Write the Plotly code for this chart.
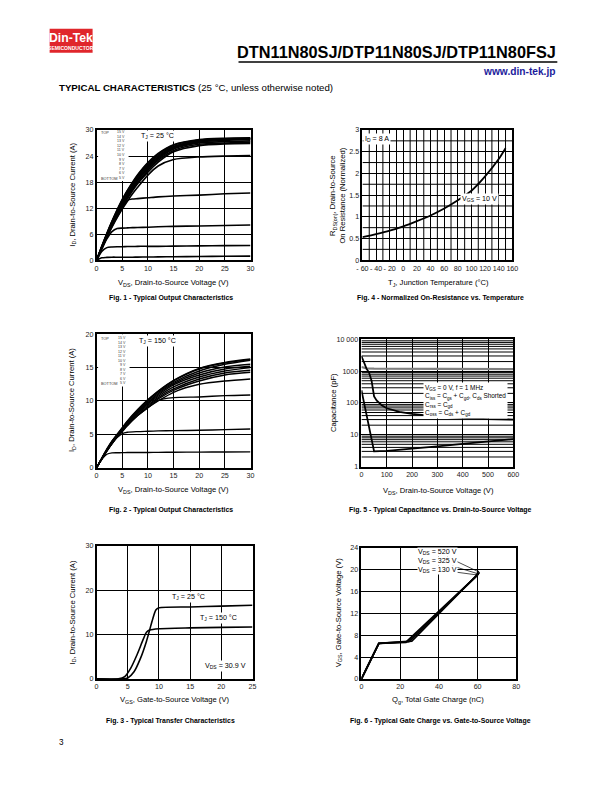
import plotly.graph_objects as go

W, H = 612, 792
OFF = 8  # default page margin of the html body
# measured page-to-picture mapping of the renderer (picture = a + b * page)
SX_A, SX_B = 5.5, 0.981
SY_A, SY_B = 4.3, 0.987
FONT = "Liberation Sans, Arial, sans-serif"

# ---------------- DATA ----------------
f1_vds = [0, 1, 2, 3, 4, 5, 6, 7, 8, 10, 12, 15, 20, 25, 30]
f1_curves = [
    [0, 3.2, 6.2, 9.0, 11.6, 14.0, 16.1, 18.0, 19.7, 22.5, 24.6, 26.6, 27.8, 28.1, 28.2],
    [0, 3.1, 6.1, 8.9, 11.5, 13.9, 16.0, 17.8, 19.5, 22.3, 24.4, 26.5, 27.7, 28.0, 28.1],
    [0, 3.1, 6.0, 8.8, 11.3, 13.6, 15.7, 17.5, 19.2, 22.0, 24.1, 26.2, 27.5, 27.9, 28.0],
    [0, 3.0, 5.9, 8.6, 11.1, 13.3, 15.4, 17.2, 18.9, 21.7, 23.8, 26.0, 27.4, 27.8, 27.9],
    [0, 3.0, 5.8, 8.5, 10.9, 13.1, 15.1, 16.9, 18.6, 21.4, 23.6, 25.8, 27.2, 27.6, 27.8],
    [0, 2.9, 5.7, 8.3, 10.7, 12.9, 14.8, 16.6, 18.3, 21.1, 23.3, 25.6, 27.0, 27.3, 27.5],
    [0, 2.9, 5.6, 8.2, 10.5, 12.6, 14.5, 16.3, 17.9, 20.7, 23.0, 25.3, 26.7, 27.0, 27.2],
    [0, 2.8, 5.5, 8.0, 10.3, 12.4, 14.2, 16.0, 17.6, 20.3, 22.6, 25.0, 26.4, 26.8, 26.9],
    [0, 2.7, 5.2, 7.6, 9.8, 11.8, 13.6, 15.3, 16.8, 19.6, 21.7, 23.2, 23.8, 24.0, 24.1],
    [0, 2.7, 5.3, 7.8, 10.0, 12.2, 13.8, 14.1, 14.2, 14.4, 14.6, 14.8, 15.0, 15.3, 15.5],
    [0, 2.5, 4.9, 6.6, 7.3, 7.4, 7.45, 7.5, 7.55, 7.6, 7.7, 7.8, 7.9, 8.0, 8.1],
    [0, 2.0, 2.9, 3.05, 3.1, 3.1, 3.15, 3.15, 3.2, 3.2, 3.2, 3.25, 3.3, 3.35, 3.4],
    [0, 0.55, 0.65, 0.7, 0.7, 0.7, 0.7, 0.7, 0.72, 0.74, 0.76, 0.8, 0.85, 0.9, 0.95],
]
vgs_labels = ["15 V", "14 V", "13 V", "12 V", "11 V", "10 V", "9 V", "8 V", "7 V", "6 V", "5 V"]

f2_vds = [0, 1, 2, 3, 4, 5, 6, 8, 10, 12, 15, 20, 25, 30]
f2_curves = [
    [0, 1.4, 2.8, 4.0, 5.0, 6.0, 7.0, 8.7, 10.2, 11.5, 13.1, 14.9, 15.8, 16.3],
    [0, 1.4, 2.7, 3.9, 4.9, 5.9, 6.9, 8.6, 10.1, 11.4, 13.0, 14.8, 15.7, 16.2],
    [0, 1.4, 2.7, 3.9, 4.9, 5.9, 6.9, 8.5, 10.0, 11.3, 12.8, 14.5, 15.5, 16.1],
    [0, 1.3, 2.6, 3.8, 4.8, 5.8, 6.8, 8.4, 9.8, 11.1, 12.6, 14.2, 15.1, 15.5],
    [0, 1.3, 2.6, 3.8, 4.8, 5.8, 6.7, 8.3, 9.7, 10.9, 12.4, 13.9, 14.8, 15.2],
    [0, 1.3, 2.6, 3.7, 4.7, 5.7, 6.6, 8.2, 9.6, 10.7, 12.1, 13.6, 14.5, 15.0],
    [0, 1.3, 2.5, 3.7, 4.7, 5.6, 6.5, 8.1, 9.4, 10.5, 11.8, 13.3, 14.2, 14.6],
    [0, 1.3, 2.5, 3.6, 4.6, 5.5, 6.4, 7.9, 9.2, 10.3, 11.6, 13.0, 13.9, 14.3],
    [0, 1.3, 2.5, 3.6, 4.6, 5.5, 6.3, 7.8, 9.0, 10.0, 11.3, 12.5, 13.0, 13.3],
    [0, 1.3, 2.5, 3.6, 4.6, 5.4, 6.3, 7.8, 9.0, 10.1, 10.5, 10.6, 10.8, 10.9],
    [0, 1.3, 2.5, 3.6, 4.5, 5.1, 5.3, 5.4, 5.45, 5.5, 5.55, 5.6, 5.7, 5.8],
    [0, 1.2, 2.0, 2.2, 2.22, 2.24, 2.25, 2.26, 2.27, 2.28, 2.3, 2.32, 2.34, 2.36],
]

f3_vgs_25 = [0, 4, 5, 6, 7, 8, 8.5, 9, 9.5, 10, 15, 20, 25]
f3_id_25 = [0, 0, 0.2, 1.6, 4.5, 8.5, 11.0, 13.5, 15.5, 16.0, 16.2, 16.4, 16.6]
f3_vgs_150 = [0, 3.5, 4.5, 5.5, 6.5, 7.5, 8, 8.5, 10, 15, 20, 25]
f3_id_150 = [0, 0, 0.5, 2.5, 5.5, 9.0, 10.5, 11.0, 11.3, 11.5, 11.6, 11.7]

f4_tj = [-60, -40, -20, 0, 20, 40, 60, 80, 100, 120, 140, 150]
f4_rds = [0.53, 0.6, 0.68, 0.78, 0.9, 1.03, 1.19, 1.38, 1.6, 1.93, 2.33, 2.58]
f4_ticktext = ["- 60", "- 40", "- 20", "0", "20", "40", "60", "80", "100", "120", "140", "160"]

f5_v_ciss = [0, 10, 20, 50, 100, 200, 300, 400, 500, 600]
f5_ciss = [1350, 1260, 1220, 1200, 1200, 1190, 1180, 1170, 1160, 1150]
f5_v_coss = [0, 10, 20, 30, 40, 50, 60, 80, 100, 150, 200, 300, 400, 500, 600]
f5_coss = [3000, 1800, 1200, 900, 500, 160, 120, 85, 68, 52, 45, 37, 33, 31, 30]
f5_v_crss = [0, 10, 20, 30, 40, 50, 100, 200, 300, 400, 500, 600]
f5_crss = [250, 100, 40, 15, 6, 3, 3.1, 3.6, 4.3, 5.2, 6.2, 7.3]
f5_tickvals = [1, 10, 100, 1000, 10000]
f5_ticktext = ["1", "10", "100", "1000", "10 000"]

f6_qg_130 = [0, 9, 23, 60]
f6_vgs_130 = [0, 6.5, 6.7, 19.0]
f6_qg_325 = [0, 9, 24.5, 60.5]
f6_vgs_325 = [0, 6.5, 6.8, 19.2]
f6_qg_520 = [0, 9, 26, 61]
f6_vgs_520 = [0, 6.5, 6.9, 19.5]
f6_labels = ["520 V", "325 V", "130 V"]

# ---------------- FIGURE ----------------
def px(x):
    return ((x - SX_A) / SX_B - OFF) / W

def py(y):
    return 1 - ((y - SY_A) / SY_B - OFF) / H

FS = 1.0 / SX_B  # font compensation

fig = go.Figure()

def add_line(xs, ys, ax, width=1.5, color="black", shape="spline"):
    line = dict(color=color, width=width, shape=shape)
    if shape == "spline":
        line["smoothing"] = 0.7
    fig.add_trace(go.Scatter(
        x=xs, y=ys, mode="lines", line=line,
        xaxis="x" + ax, yaxis="y" + ax, showlegend=False, hoverinfo="skip"))

for c in f1_curves:
    add_line(f1_vds, c, "", 1.6)
for c in f2_curves:
    add_line(f2_vds, c, "3", 1.4)
add_line(f3_vgs_25, f3_id_25, "5", 1.6)
add_line(f3_vgs_150, f3_id_150, "5", 1.6)
add_line(f4_tj, f4_rds, "2", 1.8)
add_line(f5_v_ciss, f5_ciss, "4", 2.2, color="#808080", shape="linear")
add_line(f5_v_coss, f5_coss, "4", 1.8, shape="linear")
add_line(f5_v_crss, f5_crss, "4", 1.8, shape="linear")
add_line(f6_qg_130, f6_vgs_130, "6", 1.8, shape="linear")
add_line(f6_qg_325, f6_vgs_325, "6", 1.8, shape="linear")
add_line(f6_qg_520, f6_vgs_520, "6", 1.8, shape="linear")

tickfont = dict(family=FONT, size=7 * FS, color="#222")

def axis(domain, rng, **kw):
    d = dict(domain=domain, range=rng, showline=True, mirror=True, linecolor="black",
             linewidth=1.5, showgrid=True, gridcolor="black", gridwidth=1, ticks="",
             zeroline=False, tickfont=tickfont, fixedrange=True, tickangle=0)
    d.update(kw)
    return d

def dom_x(a, b):
    return [px(a), px(b)]

def dom_y(top, bottom):
    return [py(bottom), py(top)]

fig.update_layout(
    width=W, height=H, margin=dict(l=0, r=0, t=0, b=0),
    paper_bgcolor="white", plot_bgcolor="white", showlegend=False,
    xaxis=axis(dom_x(96, 250), [0, 30], tickvals=[0, 5, 10, 15, 20, 25, 30], anchor="y"),
    yaxis=axis(dom_y(130, 260), [0, 30], tickvals=[0, 6, 12, 18, 24, 30], anchor="x"),
    xaxis2=axis(dom_x(362, 512), [-60, 160], tickvals=list(range(-60, 161, 20)),
                ticktext=f4_ticktext, anchor="y2"),
    yaxis2=axis(dom_y(130, 260), [0, 3], tickvals=[0, 0.5, 1, 1.5, 2, 2.5, 3],
                ticktext=["0", "0.5", "1", "1.5", "2", "2.5", "3"], anchor="x2"),
    xaxis3=axis(dom_x(96, 250), [0, 30], tickvals=[0, 5, 10, 15, 20, 25, 30], anchor="y3"),
    yaxis3=axis(dom_y(334, 467), [0, 20], tickvals=[0, 5, 10, 15, 20], anchor="x3"),
    xaxis4=axis(dom_x(361, 513), [0, 600], tickvals=[0, 100, 200, 300, 400, 500, 600], anchor="y4"),
    yaxis4=axis(dom_y(339, 466), [0, 4], type="log", tickvals=f5_tickvals, ticktext=f5_ticktext,
                anchor="x4"),
    xaxis5=axis(dom_x(96, 252), [0, 25], tickvals=[0, 5, 10, 15, 20, 25], anchor="y5"),
    yaxis5=axis(dom_y(545, 678), [0, 30], tickvals=[0, 10, 20, 30], anchor="x5"),
    xaxis6=axis(dom_x(361, 516), [0, 80], tickvals=[0, 20, 40, 60, 80], anchor="y6"),
    yaxis6=axis(dom_y(547, 678), [0, 24], tickvals=[0, 4, 8, 12, 16, 20, 24], anchor="x6"),
)

# minor grid lines (style) as shapes
gl = dict(color="black", width=1)
for v in range(-50, 160, 20):
    fig.add_shape(type="line", xref="x2", yref="y2", x0=v, x1=v, y0=0, y1=3, line=gl, layer="below")
for k in range(6):
    v = 0.25 + 0.5 * k
    fig.add_shape(type="line", xref="x2", yref="y2", x0=-60, x1=160, y0=v, y1=v, line=gl, layer="below")
for k in range(4):
    for m in range(2, 10):
        v = m * 10 ** k
        fig.add_shape(type="line", xref="x4", yref="y4", x0=0, x1=600, y0=v, y1=v, line=gl, layer="below")

ann = []

def text(x, y, s, size=7, bold=False, xanchor="center", yanchor="middle", color="black",
         family=FONT, textangle=0, bg=None, align="center"):
    a = dict(x=px(x), y=py(y), xref="paper", yref="paper", text=("<b>%s</b>" % s) if bold else s,
             showarrow=False, xanchor=xanchor, yanchor=yanchor, textangle=textangle, align=align,
             font=dict(family=family, size=size * FS, color=color))
    if bg:
        a["bgcolor"] = bg
        a["borderpad"] = 1
    ann.append(a)

def dtext(x, y, s, axis_id, size=7, bg="white", xanchor="center"):
    ann.append(dict(x=x, y=y, xref="x" + axis_id, yref="y" + axis_id, text=s, showarrow=False,
                    xanchor=xanchor, font=dict(family=FONT, size=size * FS, color="black"),
                    bgcolor=bg, borderpad=1))

# Header
fig.add_shape(type="rect", xref="paper", yref="paper", x0=px(49), x1=px(92), y0=py(53), y1=py(29),
              fillcolor="#e0262b", line=dict(width=0))
text(70.5, 38, "Din-Tek", size=12, bold=True, color="white", family="Liberation Sans Narrow, Liberation Sans, Arial")
text(70.5, 48, "SEMICONDUCTOR", size=5, bold=True, color="white")
text(558, 52, "DTN11N80SJ/DTP11N80SJ/DTP11N80FSJ", size=16, bold=True, xanchor="right",
     family="Liberation Sans Narrow, Liberation Sans, Arial")
fig.add_shape(type="line", xref="paper", yref="paper", x0=px(238), x1=px(557), y0=py(62), y1=py(62),
              line=dict(color="black", width=1.5))
text(558, 72, "www.din-tek.jp", size=10, bold=True, xanchor="right", color="#1c1c9c")
text(56, 88, "<b>TYPICAL CHARACTERISTICS</b> (25 °C, unless otherwise noted)", size=9.5, xanchor="left")
text(56, 741, "3", size=8, xanchor="left")

# Captions
text(170, 298, "Fig. 1 - Typical Output Characteristics", size=6.8, bold=True)
text(440, 298, "Fig. 4 - Normalized On-Resistance vs. Temperature", size=6.8, bold=True)
text(170, 509, "Fig. 2 - Typical Output Characteristics", size=6.8, bold=True)
text(440, 509, "Fig. 5 - Typical Capacitance vs. Drain-to-Source Voltage", size=6.8, bold=True)
text(170, 720, "Fig. 3 - Typical Transfer Characteristics", size=6.8, bold=True)
text(440, 720, "Fig. 6 - Typical Gate Charge vs. Gate-to-Source Voltage", size=6.8, bold=True)

# Axis titles
text(173, 283, "V<sub>DS</sub>, Drain-to-Source Voltage (V)", size=7.5)
text(72, 195, "I<sub>D</sub>, Drain-to-Source Current (A)", size=7.5, textangle=-90)
text(438, 283, "T<sub>J</sub>, Junction Temperature (°C)", size=7.5)
text(337, 195, "R<sub>DS(on)</sub>, Drain-to-Source<br>On Resistance (Normalized)", size=7.5, textangle=-90)
text(173, 489, "V<sub>DS</sub>, Drain-to-Source Voltage (V)", size=7.5)
text(72, 400, "I<sub>D</sub>, Drain-to-Source Current (A)", size=7.5, textangle=-90)
text(438, 490, "V<sub>DS</sub>, Drain-to-Source Voltage (V)", size=7.5)
text(333, 402, "Capacitance (pF)", size=7.5, textangle=-90)
text(174, 699, "V<sub>GS</sub>, Gate-to-Source Voltage (V)", size=7.5)
text(72, 612, "I<sub>D</sub>, Drain-to-Source Current (A)", size=7.5, textangle=-90)
text(438, 699, "Q<sub>g</sub>, Total Gate Charge (nC)", size=7.5)
text(338, 612, "V<sub>GS</sub>, Gate-to-Source Voltage (V)", size=7.5, textangle=-90)

# Fig 1 legend
fig.add_shape(type="rect", xref="paper", yref="paper", x0=px(97.5), x1=px(128), y0=py(181), y1=py(130),
              fillcolor="white", line=dict(width=0), layer="above")
for i, lab in enumerate(vgs_labels):
    text(126, 132 + i * 4.6, lab, size=3.5, xanchor="right", color="#333")
text(98, 132, "TOP", size=3.8, xanchor="left", color="#333")
text(98, 178, "BOTTOM", size=3.8, xanchor="left", color="#333")
dtext(11.9, 28.6, "T<sub>J</sub> = 25 °C", "", size=7)

# Fig 2 legend
fig.add_shape(type="rect", xref="paper", yref="paper", x0=px(97.5), x1=px(129), y0=py(386), y1=py(334),
              fillcolor="white", line=dict(width=0), layer="above")
for i, lab in enumerate(vgs_labels):
    text(127, 338 + i * 4.5, lab, size=3.5, xanchor="right", color="#333")
text(98, 338, "TOP", size=3.8, xanchor="left", color="#333")
text(98, 383, "BOTTOM", size=3.8, xanchor="left", color="#333")
dtext(11.8, 19.0, "T<sub>J</sub> = 150 °C", "3", size=7)

# Fig 3 labels
dtext(14.7, 18.4, "T<sub>J</sub> = 25 °C", "5", size=7)
dtext(19.5, 13.8, "T<sub>J</sub> = 150 °C", "5", size=7)
dtext(20.6, 2.8, "V<sub>DS</sub> = 30.9 V", "5", size=7)

# Fig 4 labels
dtext(-39, 2.8, "I<sub>D</sub> = 8 A", "2", size=7)
dtext(112, 1.4, "V<sub>GS</sub> = 10 V", "2", size=7)

# Fig 5 labels
dtext(257, 1900, "C<sub>iss</sub>", "4", size=7)
dtext(106, 170, "C<sub>oss</sub>", "4", size=7)
dtext(83, 11.5, "C<sub>rss</sub>", "4", size=7)
ann.append(dict(x=px(423), y=py(382), xref="paper", yref="paper", xanchor="left", yanchor="top",
                align="left", showarrow=False, bgcolor="white", borderpad=1,
                font=dict(family=FONT, size=6.3 * FS, color="black"),
                text="V<sub>GS</sub> = 0 V, f = 1 MHz<br>C<sub>iss</sub> = C<sub>gs</sub> + C<sub>gd</sub>, "
                     "C<sub>ds</sub> Shorted<br>C<sub>rss</sub> = C<sub>gd</sub><br>"
                     "C<sub>oss</sub> = C<sub>ds</sub> + C<sub>gd</sub>"))

# Fig 6 labels with arrows
f6_label_px = [(438, 552), (438, 561), (438, 569)]
f6_tips = [(f6_qg_520[-1], f6_vgs_520[-1]), (f6_qg_325[-1], f6_vgs_325[-1]), (f6_qg_130[-1], f6_vgs_130[-1])]
for lab, (lx, ly), (tx, ty) in zip(f6_labels, f6_label_px, f6_tips):
    tip_px = 361 + tx / 80 * 155
    tip_py = 678 - ty / 24 * 131
    ann.append(dict(x=tx, y=ty, xref="x6", yref="y6", text="V<sub>DS</sub> = " + lab,
                    showarrow=True, arrowhead=2, arrowsize=0.6, arrowwidth=0.7, arrowcolor="black",
                    ax=(lx - tip_px) * FS, ay=(ly - tip_py) * FS, bgcolor="white", borderpad=0,
                    font=dict(family=FONT, size=7 * FS, color="black")))

fig.update_layout(annotations=ann)
fig.write_html("out.html", config={"displayModeBar": False})
